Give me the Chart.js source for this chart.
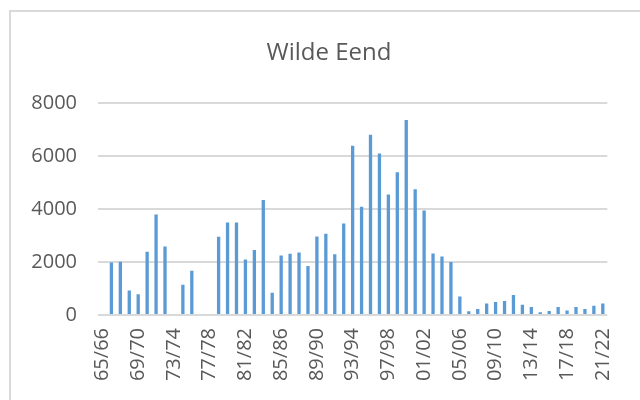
<!DOCTYPE html>
<html>
<head>
<meta charset="utf-8">
<script src="https://cdn.jsdelivr.net/npm/chart.js@4/dist/chart.umd.min.js"></script>
<style>
  html, body { margin: 0; padding: 0; background: #ffffff; }
  #wrap { position: relative; width: 640px; height: 400px; }
  canvas { display: block; }
</style>
</head>
<body>
<div id="wrap"><canvas id="c" width="640" height="400"></canvas></div>
<script>
const seasons = [
  '65/66','66/67','67/68','68/69','69/70','70/71','71/72','72/73','73/74','74/75',
  '75/76','76/77','77/78','78/79','79/80','80/81','81/82','82/83','83/84','84/85',
  '85/86','86/87','87/88','88/89','89/90','90/91','91/92','92/93','93/94','94/95',
  '95/96','96/97','97/98','98/99','99/00','00/01','01/02','02/03','03/04','04/05',
  '05/06','06/07','07/08','08/09','09/10','10/11','11/12','12/13','13/14','14/15',
  '15/16','16/17','17/18','18/19','19/20','20/21','21/22'
];
const wildeEend = [
  null, 1980, 2010, 920, 780, 2380, 3790, 2580, null, 1140,
  1670, null, null, 2950, 3490, 3490, 2090, 2450, 4340, 840,
  2240, 2310, 2360, 1850, 2960, 3060, 2290, 3450, 6380, 4080,
  6800, 6090, 4540, 5380, 7350, 4740, 3940, 2320, 2210, 2000,
  700, 140, 230, 430, 490, 530, 750, 390, 300, 100,
  155, 300, 170, 300, 230, 350, 430
];
const shownTickLabels = ['65/66','69/70','73/74','77/78','81/82','85/86','89/90','93/94','97/98','01/02','05/06','09/10','13/14','17/18','21/22'];
const yTicks = [0, 2000, 4000, 6000, 8000];
const chartTitle = 'Wilde Eend';

const frame = {
  id: 'frame',
  beforeDraw(chart) {
    const ctx = chart.ctx;
    ctx.save();
    ctx.strokeStyle = '#d9d9d9';
    ctx.lineWidth = 2;
    ctx.beginPath();
    ctx.moveTo(10, 400);
    ctx.lineTo(10, 11);
    ctx.lineTo(640, 11);
    ctx.stroke();
    ctx.restore();
  }
};

const FONT = '"Open Sans", "DejaVu Sans", sans-serif';

new Chart(document.getElementById('c'), {
  type: 'bar',
  data: {
    labels: seasons,
    datasets: [{
      data: wildeEend,
      backgroundColor: '#5B9BD5',
      borderWidth: 0,
      categoryPercentage: 1,
      barPercentage: 0.37
    }]
  },
  options: {
    responsive: false,
    animation: false,
    devicePixelRatio: 1,
    layout: { padding: { left: 20, right: 2, top: 0, bottom: 0 } },
    plugins: {
      legend: { display: false },
      tooltip: { enabled: false },
      title: {
        display: true,
        text: chartTitle,
        color: '#595959',
        font: { family: FONT, size: 24, weight: 'normal', lineHeight: 1.2 },
        padding: { top: 39, bottom: 35 }
      }
    },
    scales: {
      x: {
        grid: { display: false, drawTicks: false },
        border: { display: false },
        ticks: {
          autoSkip: false,
          minRotation: 90,
          maxRotation: 90,
          padding: 13,
          color: '#595959',
          font: { family: FONT, size: 20 },
          callback: function(value) {
            const lab = this.getLabelForValue(value);
            return shownTickLabels.includes(lab) ? lab : '';
          }
        },
        afterFit: (s) => { s.height = 85; }
      },
      y: {
        position: 'left',
        min: yTicks[0],
        max: yTicks[yTicks.length - 1],
        grid: { color: '#d9d9d9', lineWidth: 2, drawTicks: false },
        border: { display: false },
        ticks: {
          stepSize: 2000,
          padding: 21,
          color: '#595959',
          font: { family: FONT, size: 20 },
          callback: (v) => String(v)
        },
        afterBuildTicks: (s) => { s.ticks = yTicks.map(v => ({ value: v })); },
        afterFit: (s) => { s.width = 78; }
      },
      spacer: {
        type: 'linear',
        position: 'right',
        display: true,
        grid: { display: false, drawTicks: false },
        border: { display: false },
        ticks: { display: false },
        afterFit: (s) => { s.width = 20; }
      }
    }
  },
  plugins: [frame]
});
</script>
</body>
</html>
